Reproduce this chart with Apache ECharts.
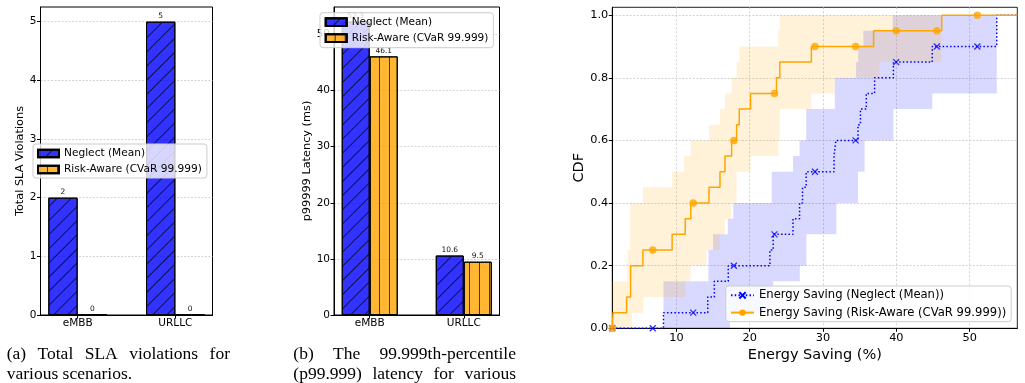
<!DOCTYPE html>
<html><head><meta charset="utf-8">
<script src="https://cdn.jsdelivr.net/npm/echarts@6/dist/echarts.min.js"></script>
<style>html,body{margin:0;padding:0;background:#fff}#c{width:1025px;height:383px}</style>
</head><body><div id="c"></div>
<script>
// ---------------- data ----------------
const categories = ['eMBB', 'URLLC'];
const slaNeglect = [2, 5];
const slaRisk = [0, 0];
const latNeglect = [52.3, 10.6];
const latRisk = [46.1, 9.5];
const slaTicks = [0, 1, 2, 3, 4, 5];
const latTicks = [0, 10, 20, 30, 40, 50];
const cdfXTicks = [10, 20, 30, 40, 50];
const cdfYTicks = [0, 0.2, 0.4, 0.6, 0.8, 1.0];

// empirical CDF steps: [x, level from x onward]
const neglectSteps = [[1.25,0],[8.23,0.05],[14.27,0.10],[15.17,0.15],[17.07,0.20],[22.75,0.25],[23.2,0.30],[25.9,0.35],[26.8,0.40],[27.2,0.45],[27.7,0.50],[31.5,0.55],[31.75,0.60],[34.77,0.65],[35.1,0.70],[35.9,0.75],[37.03,0.80],[39.6,0.85],[44.9,0.90],[53.7,1.0],[56.5,1.0]];
const riskSteps = [[1.25,0],[1.36,0.05],[3.2,0.10],[3.75,0.20],[5.42,0.25],[9.41,0.30],[11.2,0.35],[11.95,0.40],[14.44,0.45],[15.94,0.50],[16.62,0.55],[17.53,0.60],[18.21,0.65],[18.57,0.70],[20.11,0.75],[23.65,0.80],[24.10,0.85],[28.41,0.90],[36.9,0.95],[46.19,1.0],[56.5,1.0]];

// marker samples
const markerX = [1.25, 6.77, 12.29, 17.83, 23.37, 28.9, 34.44, 39.98, 45.52, 51.05];
const neglectMarkY = [0, 0, 0.05, 0.2, 0.3, 0.5, 0.6, 0.85, 0.9, 0.9];
const riskMarkY = [0, 0.25, 0.4, 0.6, 0.75, 0.9, 0.9, 0.95, 0.95, 1.0];

// confidence bands (step functions; last entry marks the end)
const riskUpper = [[1.25,0.15],[3.33,0.25],[3.70,0.40],[5.42,0.45],[9.41,0.50],[11.04,0.55],[11.95,0.60],[14.44,0.65],[15.94,0.70],[16.62,0.75],[17.53,0.80],[18.21,0.85],[18.57,0.90],[23.88,0.95],[24.10,1.0],[46.19,1.0]];
const riskLower = [[1.25,0],[3.92,0.05],[5.51,0.10],[11.2,0.15],[11.9,0.20],[14.1,0.25],[15.9,0.30],[16.6,0.35],[17.5,0.40],[18.2,0.50],[20.1,0.55],[23.9,0.60],[24.1,0.70],[28.4,0.75],[31.6,0.80],[37.7,0.85],[46.19,1.0]];
const neglectUpper = [[8.23,0.15],[14.36,0.25],[15.0,0.30],[17.0,0.35],[17.75,0.40],[23.0,0.50],[25.9,0.55],[26.8,0.60],[27.7,0.70],[31.6,0.80],[34.5,0.85],[34.8,0.90],[35.5,0.95],[39.5,1.0],[53.7,1.0]];
const neglectLower = [[8.23,0],[17.3,0.05],[22.8,0.10],[23.2,0.15],[26.83,0.20],[27.74,0.30],[31.82,0.40],[34.77,0.50],[35.67,0.60],[39.6,0.70],[44.9,0.75],[53.7,1.0]];

// ---------------- helpers ----------------
const FONT = 'DejaVu Sans';
const SERIF = 'Liberation Serif';
const NEG = 'Neglect (Mean)';
const RISK = 'Risk-Aware (CVaR 99.999)';
const ESN = 'Energy Saving (Neglect (Mean))';
const ESR = 'Energy Saving (Risk-Aware (CVaR 99.999))';

function stepPath(steps) {
  const pts = [[steps[0][0], steps[0][1]]];
  for (let i = 1; i < steps.length; i++) {
    pts.push([steps[i][0], steps[i - 1][1]]);
    if (i < steps.length - 1) pts.push([steps[i][0], steps[i][1]]);
  }
  return pts;
}
function bandSeries(name, upper, lower, fill) {
  return {
    type: 'custom', name: name, xAxisIndex: 2, yAxisIndex: 2, z: 1, silent: true,
    data: [[upper[0][0], upper[0][1]]],
    renderItem: function (params, api) {
      const pts = stepPath(upper).concat(stepPath(lower).reverse()).map(p => api.coord(p));
      return { type: 'polygon', shape: { points: pts }, style: { fill: fill } };
    }
  };
}
const hatchDiag = { symbol: 'rect', symbolSize: 1, color: 'rgba(0,0,0,0.7)', dashArrayX: [1, 0], dashArrayY: [1, 9], rotation: -Math.PI / 4 };
const hatchVert = { symbol: 'rect', symbolSize: 1, color: 'rgba(0,0,0,0.7)', dashArrayX: [1, 0], dashArrayY: [1, 8.5], rotation: Math.PI / 2 };

function barSeries(name, vals, axis, width, color, decal, dec) {
  return {
    type: 'bar', name: name, xAxisIndex: axis, yAxisIndex: axis, z: 3,
    data: vals.map((v, i) => [i, v]), barWidth: width, barGap: '0%',
    itemStyle: { color: color, borderColor: '#000', borderWidth: 1, decal: decal },
    label: { show: true, position: 'top', distance: 1.5, fontFamily: FONT, fontSize: 7.5, color: '#111',
      formatter: p => dec ? p.value[1].toFixed(1) : String(p.value[1]) }
  };
}
const axTick = { show: true, length: 3.5, lineStyle: { color: '#000', width: 1 } };
function barXAxis(gi) {
  return { gridIndex: gi, type: 'value', min: -0.38, max: 1.38,
    axisLine: { show: true, onZero: false, lineStyle: { color: '#000', width: 1 } },
    axisTick: Object.assign({ customValues: [0, 1] }, axTick),
    axisLabel: { customValues: [0, 1], formatter: v => categories[Math.round(v)], margin: 2.5, fontFamily: FONT, fontSize: 10.5, color: '#000' },
    splitLine: { show: false } };
}
function yAxisCfg(gi, max, ticks, name, gap, fmt, fs) {
  return { gridIndex: gi, type: 'value', min: 0, max: max,
    name: name, nameLocation: 'middle', nameGap: gap,
    nameTextStyle: { fontFamily: FONT, fontSize: fs.name, color: '#000' },
    axisLine: { show: true, onZero: false, lineStyle: { color: '#000', width: 1 } },
    axisTick: Object.assign({ customValues: ticks }, axTick),
    axisLabel: { customValues: ticks, formatter: fmt, margin: 4, fontFamily: FONT, fontSize: fs.tick, color: '#000' },
    splitLine: { show: true, lineStyle: { color: '#c8c8c8', type: [2, 1.5], width: 0.8 } } };
}

// caption helper (justified words)
const mctx = document.createElement('canvas').getContext('2d');
function justify(words, x0, x1, y, fs, just) {
  mctx.font = fs + 'px "' + SERIF + '"';
  const w = words.map(t => mctx.measureText(t).width);
  const total = w.reduce((a, b) => a + b, 0);
  const gap = just && words.length > 1 ? (x1 - x0 - total) / (words.length - 1) : mctx.measureText(' ').width;
  let x = x0;
  return words.map((t, i) => {
    const el = { type: 'text', left: x, top: y - fs * 0.6, style: { text: t, font: fs + 'px "' + SERIF + '"', fill: '#000' } };
    x += w[i] + gap;
    return el;
  });
}
const CF = 17.5;
const captions = [].concat(
  justify(['(a)', 'Total', 'SLA', 'violations', 'for'], 6.7, 230, 356, CF, true),
  justify(['various', 'scenarios.'], 6.7, 230, 375.5, CF, false),
  justify(['(b)', 'The', '99.999th-percentile'], 293.3, 516, 356, CF, true),
  justify(['(p99.999)', 'latency', 'for', 'various'], 293.3, 516, 375.5, CF, true)
);

const legendBase = {
  orient: 'vertical', backgroundColor: 'rgba(255,255,255,0.8)', borderColor: '#cccccc', borderWidth: 1, borderRadius: 3,
  selectedMode: false
};

const option = {
  animation: false,
  backgroundColor: '#fff',
  grid: [
    { left: 40.5, top: 7, width: 172, height: 308, show: true, borderColor: '#000', borderWidth: 1, backgroundColor: 'transparent' },
    { left: 334, top: 7, width: 165.5, height: 308, show: true, borderColor: '#000', borderWidth: 1, backgroundColor: 'transparent' },
    { left: 612.3, top: 7.3, width: 405, height: 321, show: true, borderColor: '#222', borderWidth: 1, backgroundColor: 'transparent' }
  ],
  xAxis: [
    barXAxis(0), barXAxis(1),
    { gridIndex: 2, type: 'value', min: 1.25, max: 56.5,
      name: 'Energy Saving (%)', nameLocation: 'middle', nameGap: 18,
      nameTextStyle: { fontFamily: FONT, fontSize: 14.5, color: '#000' },
      axisLine: { show: true, onZero: false, lineStyle: { color: '#000', width: 1 } },
      axisTick: Object.assign({ customValues: cdfXTicks }, axTick),
      axisLabel: { customValues: cdfXTicks, margin: 4, fontFamily: FONT, fontSize: 11.3, color: '#000' },
      splitLine: { show: true, lineStyle: { color: '#c8c8c8', type: [2, 2], width: 0.8 } } }
  ],
  yAxis: [
    yAxisCfg(0, 5.25, slaTicks, 'Total SLA Violations', 14, v => String(v), { name: 11.3, tick: 10.5 }),
    yAxisCfg(1, 54.9, latTicks, 'p99999 Latency (ms)', 19, v => String(v), { name: 11.3, tick: 10.5 }),
    yAxisCfg(2, 1.025, cdfYTicks, 'CDF', 26, v => v.toFixed(1), { name: 14.5, tick: 11.3 })
  ],
  legend: [
    Object.assign({}, legendBase, { left: 33, top: 144, padding: [4, 5, 3, 4], itemWidth: 21, itemHeight: 7.7, itemGap: 5, icon: 'rect',
      data: [NEG, RISK], textStyle: { fontFamily: FONT, fontSize: 10.6, color: '#000' } }),
    Object.assign({}, legendBase, { left: 320, top: 12.7, padding: [4, 5, 4, 4.7], itemWidth: 21, itemHeight: 7.7, itemGap: 5, icon: 'rect',
      data: [NEG, RISK], textStyle: { fontFamily: FONT, fontSize: 10.5, color: '#000' } }),
    Object.assign({}, legendBase, { left: 725.7, top: 286, padding: [3.3, 5, 3, 4.3], itemWidth: 23, itemHeight: 8, itemGap: 5.3,
      data: [ESN, ESR], textStyle: { fontFamily: FONT, fontSize: 11.6, color: '#000' } })
  ],
  series: [
    barSeries(NEG, slaNeglect, 0, 29.3, 'rgba(0,0,255,0.8)', hatchDiag, false),
    barSeries(RISK, slaRisk, 0, 29.3, 'rgba(255,165,0,0.8)', hatchVert, false),
    barSeries(NEG, latNeglect, 1, 28, 'rgba(0,0,255,0.8)', hatchDiag, true),
    barSeries(RISK, latRisk, 1, 28, 'rgba(255,165,0,0.8)', hatchVert, true),
    bandSeries('bandN', neglectUpper, neglectLower, 'rgba(0,0,255,0.15)'),
    bandSeries('bandR', riskUpper, riskLower, 'rgba(255,165,0,0.15)'),
    { type: 'line', name: ESN, xAxisIndex: 2, yAxisIndex: 2, z: 3, step: 'end', data: neglectSteps,
      showSymbol: false, symbol: 'path://M0,0L10,10M10,0L0,10', symbolSize: 6,
      lineStyle: { color: '#0000ff', width: 1.5, type: [1.5, 2.2] },
      itemStyle: { color: '#0000ff', borderColor: '#0000ff', borderWidth: 1.3 } },
    { type: 'scatter', name: 'mN', xAxisIndex: 2, yAxisIndex: 2, z: 4, data: markerX.map((x, i) => [x, neglectMarkY[i]]),
      symbol: 'path://M0,0L10,10M10,0L0,10', symbolSize: 6, silent: true,
      itemStyle: { color: '#0000ff', borderColor: '#0000ff', borderWidth: 1.3 } },
    { type: 'line', name: ESR, xAxisIndex: 2, yAxisIndex: 2, z: 5, step: 'end', data: riskSteps,
      showSymbol: false, symbol: 'circle', symbolSize: 7.5,
      lineStyle: { color: '#ffa500', width: 1.5 },
      itemStyle: { color: '#ffa500' } },
    { type: 'scatter', name: 'mR', xAxisIndex: 2, yAxisIndex: 2, z: 6, data: markerX.map((x, i) => [x, riskMarkY[i]]),
      symbol: 'circle', symbolSize: 7.5, silent: true, itemStyle: { color: '#ffa500' } }
  ],
  graphic: captions
};

const chart = echarts.init(document.getElementById('c'), null, { renderer: 'canvas', width: 1025, height: 383 });
chart.setOption(option);
</script>
</body></html>
